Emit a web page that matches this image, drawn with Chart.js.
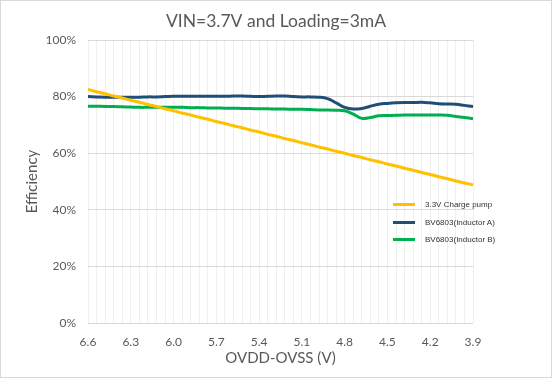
<!DOCTYPE html>
<html lang="en">

<head>
    <meta charset="UTF-8">
    <title>Efficiency</title>
    <script src="https://cdn.jsdelivr.net/npm/chart.js"></script>
    <style>
        body { margin: 0; background: #fff; }
        #wrap { position: relative; width: 552px; height: 378px; box-sizing: border-box; border: 1px solid #d9d9d9; }
        #legend { position: absolute; left: 392px; top: 195px; font-family: "Liberation Sans", Arial, sans-serif; font-size: 8px; color: #333; }
        .item { display: flex; align-items: center; height: 17.5px; }
        .swatch { width: 22px; height: 3px; margin-right: 10px; }
    </style>
</head>

<body>
    <div id="wrap">
        <canvas id="myChart"></canvas>
        <div id="legend"></div>
    </div>

    <script>
        // x categories: OVDD-OVSS from 6.6 V down to 3.9 V, 0.06 V per step
        const voltages = ['6.6', '6.54', '6.48', '6.42', '6.36', '6.3', '6.24', '6.18', '6.12', '6.06',
            '6.0', '5.94', '5.88', '5.82', '5.76', '5.7', '5.64', '5.58', '5.52', '5.46',
            '5.4', '5.34', '5.28', '5.22', '5.16', '5.1', '5.04', '4.98', '4.92', '4.86',
            '4.8', '4.74', '4.68', '4.62', '4.56', '4.5', '4.44', '4.38', '4.32', '4.26',
            '4.2', '4.14', '4.08', '4.02', '3.96', '3.9'];

        const yTicks = [0, 20, 40, 60, 80, 100];

        const seriesNames = ['3.3V Charge pump', 'BV6803(Inductor A)', 'BV6803(Inductor B)'];
        const seriesColors = ['#FFC000', '#1F4E79', '#00B050'];

        // efficiency in %
        const chargePump = [82.5, 81.7, 81.0, 80.2, 79.5, 78.7, 78.0, 77.2, 76.5, 75.7,
            75.0, 74.2, 73.5, 72.7, 72.0, 71.2, 70.5, 69.7, 69.0, 68.2,
            67.5, 66.7, 66.0, 65.2, 64.5, 63.7, 63.0, 62.2, 61.5, 60.7,
            60.0, 59.2, 58.5, 57.7, 57.0, 56.2, 55.5, 54.7, 54.0, 53.2,
            52.5, 51.7, 51.0, 50.2, 49.5, 48.8];

        const inductorA = [80.0, 79.9, 79.8, 79.8, 79.8, 79.8, 79.8, 79.9, 79.9, 80.0,
            80.1, 80.1, 80.1, 80.1, 80.1, 80.1, 80.1, 80.2, 80.2, 80.1,
            80.0, 80.1, 80.2, 80.2, 80.0, 79.9, 79.9, 79.8, 79.3, 77.8,
            76.2, 75.6, 75.8, 76.6, 77.3, 77.6, 77.8, 77.9, 77.9, 78.0,
            77.8, 77.5, 77.4, 77.3, 76.9, 76.5];

        const inductorB = [76.6, 76.6, 76.5, 76.5, 76.4, 76.3, 76.2, 76.2, 76.2, 76.2,
            76.2, 76.2, 76.1, 76.1, 76.0, 76.0, 75.9, 75.9, 75.8, 75.8,
            75.7, 75.7, 75.6, 75.6, 75.5, 75.5, 75.4, 75.3, 75.3, 75.2,
            75.0, 73.8, 72.3, 72.6, 73.2, 73.3, 73.4, 73.5, 73.5, 73.5,
            73.5, 73.5, 73.4, 73.0, 72.6, 72.2];

        const seriesData = [chargePump, inductorA, inductorB];

        const fontFamily = 'Lato, "Open Sans", sans-serif';
        const grey = '#595959';

        const ctx = document.getElementById('myChart').getContext('2d');

        const myChart = new Chart(ctx, {
            type: 'line',
            data: {
                labels: voltages,
                datasets: seriesData.map((d, i) => ({
                    label: seriesNames[i],
                    data: d,
                    borderColor: seriesColors[i],
                    backgroundColor: seriesColors[i],
                    borderWidth: 3,
                    pointRadius: 0,
                    tension: 0.4,
                    fill: false
                }))
            },
            options: {
                responsive: true,
                maintainAspectRatio: false,
                animation: false,
                scales: {
                    x: {
                        afterFit: scale => { scale.height = 54; },
                        border: { display: false },
                        grid: { color: '#efefef', drawTicks: false },
                        ticks: {
                            color: grey,
                            font: { family: fontFamily, size: 12 },
                            padding: 12,
                            autoSkip: false,
                            maxRotation: 0,
                            callback: (v, i) => i % 5 === 0 ? voltages[i] : ''
                        },
                        title: {
                            display: true,
                            text: 'OVDD-OVSS (V)',
                            color: grey,
                            font: { family: fontFamily, size: 15 },
                            padding: { top: 0, bottom: 10 }
                        }
                    },
                    y: {
                        min: 0,
                        max: 100,
                        afterFit: scale => { scale.width = 87; },
                        afterBuildTicks: scale => { scale.ticks = yTicks.map(v => ({ value: v })); },
                        border: { display: false },
                        grid: { color: '#d9d9d9', drawTicks: false },
                        ticks: {
                            color: grey,
                            font: { family: fontFamily, size: 12 },
                            padding: 12,
                            callback: v => v + '%'
                        },
                        title: {
                            display: true,
                            text: 'Efficiency',
                            color: grey,
                            font: { family: fontFamily, size: 15 },
                            padding: { top: 22, bottom: 0 }
                        }
                    },
                    // empty right-hand space where the legend lives
                    spacer: {
                        position: 'right',
                        afterFit: scale => { scale.width = 78; },
                        border: { display: false },
                        grid: { display: false },
                        ticks: { display: false }
                    }
                },
                plugins: {
                    legend: { display: false },
                    tooltip: { enabled: false },
                    title: {
                        display: true,
                        text: 'VIN=3.7V and Loading=3mA',
                        color: grey,
                        font: { family: fontFamily, size: 17.5, weight: 'normal' },
                        padding: { top: 10, bottom: 8 }
                    }
                }
            }
        });

        // legend sits inside the plot on the right, like the original
        const legend = document.getElementById('legend');
        seriesNames.forEach((name, i) => {
            const row = document.createElement('div');
            row.className = 'item';
            row.innerHTML = '<span class="swatch" style="background:' + seriesColors[i] + '"></span><span>' + name + '</span>';
            legend.appendChild(row);
        });
    </script>
</body>

</html>
